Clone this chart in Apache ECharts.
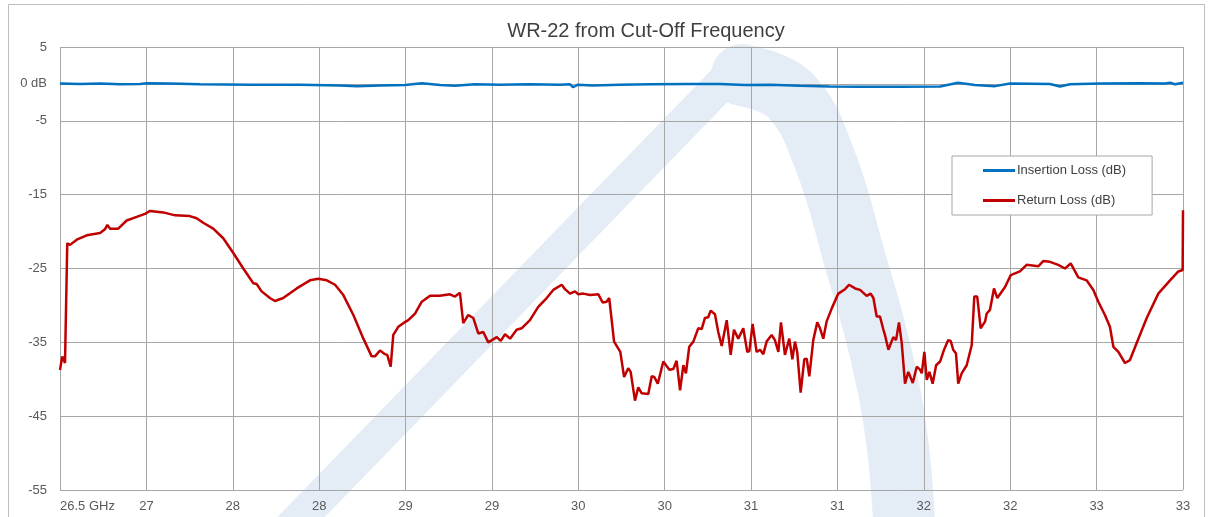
<!DOCTYPE html>
<html><head><meta charset="utf-8">
<script src="https://cdn.jsdelivr.net/npm/echarts@6/dist/echarts.min.js"></script>
<style>html,body{margin:0;padding:0;background:#fff}#c{width:1209px;height:517px}</style>
</head><body><div id="c"></div>
<script>
const chartTitle = 'WR-22 from Cut-Off Frequency';
const seriesNames = ['Insertion Loss (dB)', 'Return Loss (dB)'];

const ilFreq = [26.5,26.616,26.732,26.847,26.963,27.004,27.137,27.31,27.6,27.889,28.121,28.219,28.352,28.497,28.595,28.699,28.786,28.902,29.047,29.22,29.394,29.452,29.469,29.498,29.585,29.741,29.915,30.146,30.32,30.465,30.61,30.783,30.957,31.131,31.362,31.594,31.698,31.796,31.912,31.999,32.23,32.288,32.346,32.52,32.751,32.896,32.925,32.954,33.0];
const ilDb   = [0.05,0.0,0.05,-0.05,0.0,0.1,0.05,-0.05,-0.1,-0.1,-0.2,-0.3,-0.2,-0.15,0.1,-0.15,-0.25,-0.05,-0.1,-0.05,-0.1,-0.05,-0.45,-0.1,-0.2,-0.1,-0.05,0.0,0.0,-0.15,-0.1,-0.25,-0.35,-0.4,-0.4,-0.35,0.15,-0.15,-0.3,0.05,0.0,-0.35,-0.05,0.05,0.1,0.05,0.15,-0.05,0.15];

const rlFreq = [26.5,26.513,26.529,26.542,26.558,26.597,26.655,26.732,26.76,26.774,26.789,26.837,26.886,26.944,26.992,27.021,27.098,27.166,27.252,27.291,27.329,27.387,27.445,27.503,27.561,27.619,27.638,27.667,27.715,27.744,27.792,27.87,27.947,27.995,28.044,28.092,28.14,28.198,28.256,28.304,28.323,28.352,28.381,28.394,28.414,28.429,28.458,28.487,28.516,28.555,28.594,28.642,28.699,28.757,28.786,28.815,28.834,28.863,28.892,28.921,28.95,28.979,29.028,29.051,29.076,29.105,29.143,29.172,29.22,29.268,29.317,29.355,29.404,29.423,29.452,29.481,29.5,29.529,29.568,29.616,29.641,29.664,29.679,29.707,29.743,29.765,29.789,29.803,29.828,29.847,29.867,29.905,29.925,29.94,29.96,29.992,30.027,30.05,30.069,30.089,30.108,30.123,30.142,30.166,30.194,30.214,30.233,30.252,30.266,30.291,30.31,30.33,30.359,30.382,30.401,30.426,30.455,30.478,30.49,30.509,30.532,30.552,30.571,30.59,30.619,30.638,30.658,30.673,30.696,30.721,30.739,30.754,30.767,30.787,30.808,30.822,30.837,30.86,30.883,30.899,30.918,30.937,30.967,31.005,31.044,31.067,31.102,31.131,31.169,31.192,31.208,31.227,31.246,31.266,31.275,31.295,31.323,31.339,31.356,31.372,31.391,31.41,31.436,31.459,31.478,31.488,31.503,31.517,31.532,31.551,31.571,31.594,31.617,31.641,31.655,31.67,31.686,31.699,31.719,31.748,31.777,31.792,31.809,31.829,31.854,31.864,31.883,31.906,31.925,31.97,32.003,32.056,32.095,32.162,32.191,32.23,32.278,32.317,32.35,32.394,32.442,32.481,32.51,32.548,32.577,32.597,32.626,32.664,32.693,32.732,32.79,32.857,32.925,32.973,32.998,33.0];
const rlDb   = [-38.75,-36.9,-37.8,-21.6,-21.8,-21.1,-20.5,-20.2,-19.7,-19.1,-19.6,-19.6,-18.5,-18.0,-17.6,-17.2,-17.4,-17.8,-17.9,-18.2,-18.8,-19.6,-20.9,-22.9,-25.0,-27.0,-27.1,-28.1,-29.0,-29.4,-29.0,-27.7,-26.6,-26.4,-26.6,-27.2,-28.6,-31.3,-34.5,-36.9,-36.9,-36.1,-36.6,-36.7,-38.3,-34.0,-32.9,-32.4,-32.0,-31.1,-29.5,-28.7,-28.7,-28.5,-28.8,-28.3,-32.4,-31.3,-31.7,-33.8,-33.6,-35.0,-34.3,-34.8,-33.9,-34.5,-33.3,-33.1,-32.0,-30.2,-29.0,-27.9,-27.2,-27.8,-28.4,-28.1,-28.5,-28.4,-28.6,-28.5,-29.6,-29.5,-29.0,-34.9,-36.3,-39.7,-38.5,-39.0,-42.9,-41.1,-41.9,-42.0,-39.6,-39.7,-40.6,-37.6,-38.7,-38.6,-37.5,-41.5,-38.1,-39.2,-35.6,-34.9,-33.1,-33.2,-31.7,-31.6,-30.7,-31.2,-33.6,-35.5,-32.0,-36.7,-33.3,-34.5,-33.1,-36.3,-36.2,-32.5,-36.3,-36.0,-36.6,-34.9,-34.0,-34.7,-36.3,-32.3,-36.7,-34.5,-37.3,-34.9,-36.3,-41.8,-37.3,-37.2,-39.6,-34.7,-32.3,-33.1,-34.5,-32.2,-30.4,-28.4,-27.8,-27.2,-27.7,-27.9,-28.7,-28.4,-29.0,-31.5,-31.5,-33.3,-34.0,-36.0,-34.3,-34.7,-32.3,-35.1,-40.6,-39.0,-40.5,-38.3,-38.7,-39.2,-36.3,-40.1,-39.0,-40.6,-38.1,-37.6,-36.0,-34.7,-34.8,-36.0,-36.5,-40.6,-39.2,-38.1,-35.4,-28.8,-28.8,-33.1,-32.2,-31.1,-30.6,-27.7,-29.0,-27.5,-25.9,-25.4,-24.5,-24.7,-24.0,-24.1,-24.5,-25.0,-24.3,-26.2,-26.6,-27.9,-29.5,-31.3,-32.9,-35.6,-36.3,-37.8,-37.4,-35.1,-31.7,-28.4,-26.6,-25.4,-25.2,-17.1];

const zip = (a, b) => a.map((v, i) => [v, b[i]]);
const font = 'Liberation Sans, Arial, sans-serif';
const gridColor = '#a6a6a6';
const wm = '#e4edf6';

const chart = echarts.init(document.getElementById('c'), null, {renderer: 'canvas'});
chart.setOption({
  animation: false,
  backgroundColor: '#ffffff',
  textStyle: {fontFamily: font},
  graphic: [
    {type: 'rect', z: -10, silent: true, shape: {x: 8.5, y: 4.5, width: 1196, height: 530},
     style: {fill: 'none', stroke: '#bfbfbf', lineWidth: 1}},
    // faint logo watermark behind the plot
    {type: 'polyline', z: -20, silent: true,
     shape: {points: [[274, 545], [733, 72]]},
     style: {stroke: wm, lineWidth: 34, fill: null, lineCap: 'round'}},
    {type: 'polyline', z: -20, silent: true,
     shape: {points: [[742, 75], [790, 95], [825, 160], [855, 260], [880, 350], [897, 440], [905, 540]], smooth: 0.4},
     style: {stroke: wm, lineWidth: 62, fill: null, lineCap: 'round', lineJoin: 'round'}}
  ],
  title: {
    text: chartTitle, left: 641, top: 16, textAlign: 'center',
    textStyle: {fontFamily: font, fontSize: 20, fontWeight: 'normal', color: '#404040'}
  },
  legend: {
    orient: 'vertical', left: 952, top: 156,
    backgroundColor: '#ffffff', borderColor: gridColor, borderWidth: 1,
    padding: [7, 26, 7, 31], itemWidth: 32, itemHeight: 3, itemGap: 15, icon: 'rect',
    textStyle: {fontFamily: font, fontSize: 13, color: '#404040', lineHeight: 15, padding: [0,0,0,-3]},
    data: seriesNames
  },
  grid: {left: 60, right: 26, top: 47, bottom: 27, containLabel: false},
  xAxis: {
    type: 'value', min: 26.5, max: 33, interval: 0.5,
    axisLine: {show: true, lineStyle: {color: gridColor}},
    axisTick: {show: false},
    splitLine: {show: true, lineStyle: {color: gridColor, width: 1}},
    axisLabel: {
      color: '#595959', fontSize: 13, margin: 10, alignMinLabel: 'left',
      formatter: v => (Math.abs(v - 26.5) < 1e-6 ? '26.5 GHz' : String(Math.round(v)))
    }
  },
  yAxis: [
    {
      type: 'value', min: -55, max: 5, interval: 10,
      axisLine: {show: false}, axisTick: {show: false},
      splitLine: {show: true, lineStyle: {color: gridColor, width: 1}},
      axisLabel: {color: '#595959', fontSize: 13, margin: 13}
    },
    {
      type: 'value', min: -55, max: 5, interval: 5, position: 'left',
      axisLine: {show: false}, axisTick: {show: false}, splitLine: {show: false},
      axisLabel: {color: '#595959', fontSize: 13, margin: 13, formatter: v => (v === 0 ? '0 dB' : '')}
    }
  ],
  series: [
    {name: seriesNames[0], type: 'line', yAxisIndex: 0, symbol: 'none', showSymbol: false,
     lineStyle: {color: '#0070c0', width: 2.5}, itemStyle: {color: '#0070c0'},
     data: zip(ilFreq, ilDb), z: 3},
    {name: seriesNames[1], type: 'line', yAxisIndex: 0, symbol: 'none', showSymbol: false,
     lineStyle: {color: '#c00000', width: 2.5}, itemStyle: {color: '#c00000'},
     data: zip(rlFreq, rlDb), z: 3}
  ]
});
</script>
</body></html>
